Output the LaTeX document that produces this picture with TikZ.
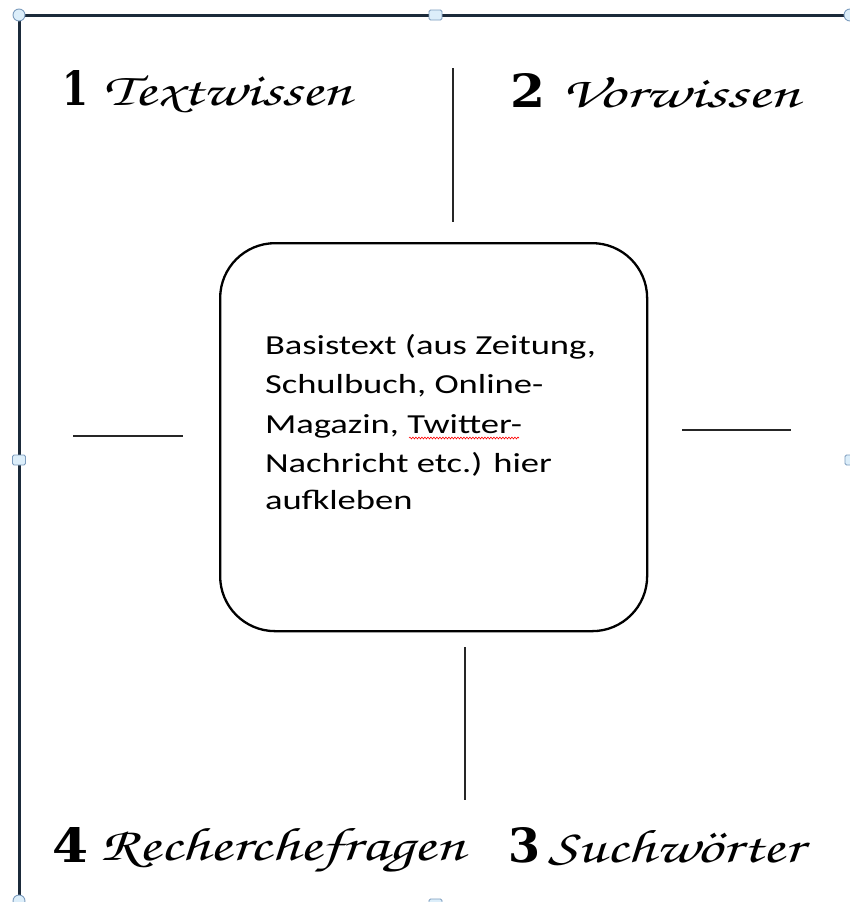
\documentclass[tikz,border=0pt]{standalone}
\usepackage{fontspec}
\usepackage{graphicx}
\usetikzlibrary{decorations.pathmorphing}
\setmainfont{Carlito}
\newfontfamily\chorus{texgyrechorus-mediumitalic.otf}
\newfontfamily\digitfont{DejaVu Serif}
\definecolor{framecol}{HTML}{1B2A3A}
\definecolor{handlefill}{HTML}{DCEEFA}
\definecolor{handledraw}{HTML}{7C9CBE}
\tikzset{
  frameline/.style={draw=framecol, line width=3pt},
  handle/.style={fill=handlefill, draw=handledraw, line width=0.9pt},
  divider/.style={draw=black!85, line width=1.4pt},
  heading/.style={anchor=base west, inner sep=0pt, outer sep=0pt},
  boxline/.style={anchor=base west, inner sep=0pt, outer sep=0pt, font=\fontsize{27.5}{39}\selectfont},
  centerbox/.style={draw=black, line width=2.3pt, rounded corners=55pt},
}
\newcommand{\hd}[3]{\resizebox{#1}{#2}{\chorus #3}}
\newcommand{\dg}[3]{\resizebox{#1}{#2}{\digitfont\bfseries #3}}
\newcommand{\wide}[1]{\scalebox{1.33}[1]{#1}}
\begin{document}
\begin{tikzpicture}[x=1pt,y=-1pt]
\useasboundingbox (0,0) rectangle (850,902);
\fill[white] (0,0) rectangle (850,902);
% frame of the text box
\coordinate (tl) at (19,15);
\coordinate (tr) at (852,15);
\coordinate (bl) at (19,904);
\draw[frameline] (tr) -- (tl) -- (bl);
% handles
\draw[handle] (19,15) circle (6);
\draw[handle] (850,15) circle (6);
\draw[handle] (19,901) circle (6);
\draw[handle, rounded corners=1.5pt] (429,10) rectangle (442,20);
\draw[handle, rounded corners=1.5pt] (12.5,455) rectangle (25.5,465);
\draw[handle, rounded corners=1.5pt] (845,455) rectangle (858,465);
\draw[handle, rounded corners=1.5pt] (429,899) rectangle (442,909);
% center box
\node[centerbox, minimum width=427pt, minimum height=388pt, anchor=north west] (box) at (219,242) {};
\node[boxline] (L1) at (265,354) {\wide{Basistext (aus Zeitung,}};
\node[boxline] (L2) at (265,393) {\wide{Schulbuch, Online-}};
\node[boxline] (L3) at (265,433) {\wide{Magazin, Twitter-}};
\node[boxline] (L4) at (265,472) {\wide{Nachricht etc.) hier}};
\node[boxline] (L5) at (265,509) {\wide{aufkleben}};
\coordinate (sq1) at (409,438);
\coordinate (sq2) at (519,438);
\draw[red, line width=0.6pt, decorate, decoration={snake, amplitude=0.9pt, segment length=3pt}] (sq1) -- (sq2);
% divider lines
\coordinate (t1) at (453,68);  \coordinate (t2) at (453,222);
\coordinate (l1) at (73,436);  \coordinate (l2) at (183,436);
\coordinate (r1) at (682,430); \coordinate (r2) at (791,430);
\coordinate (b1) at (465,647); \coordinate (b2) at (465,800);
\draw[divider] (t1) -- (t2);
\draw[divider] (l1) -- (l2);
\draw[divider] (r1) -- (r2);
\draw[divider] (b1) -- (b2);
% headings
\node[heading] (n1) at (62,105) {\dg{26pt}{35pt}{1}};
\node[heading] (h1) at (103,105) {\hd{249pt}{30pt}{Textwissen}};
\node[heading] (n2) at (510,107) {\dg{35pt}{34pt}{2}};
\node[heading] (h2) at (561,107) {\hd{239pt}{30pt}{Vorwissen}};
\node[heading] (n4) at (52,862) {\dg{36pt}{35pt}{4}};
\node[heading] (h4) at (100,860) {\hd{365pt}{32pt}{Recherchefragen}};
\node[heading] (n3) at (508,862) {\dg{32pt}{35pt}{3}};
\node[heading] (h3) at (548,862) {\hd{255pt}{32pt}{Suchwörter}};
\end{tikzpicture}
\end{document}
